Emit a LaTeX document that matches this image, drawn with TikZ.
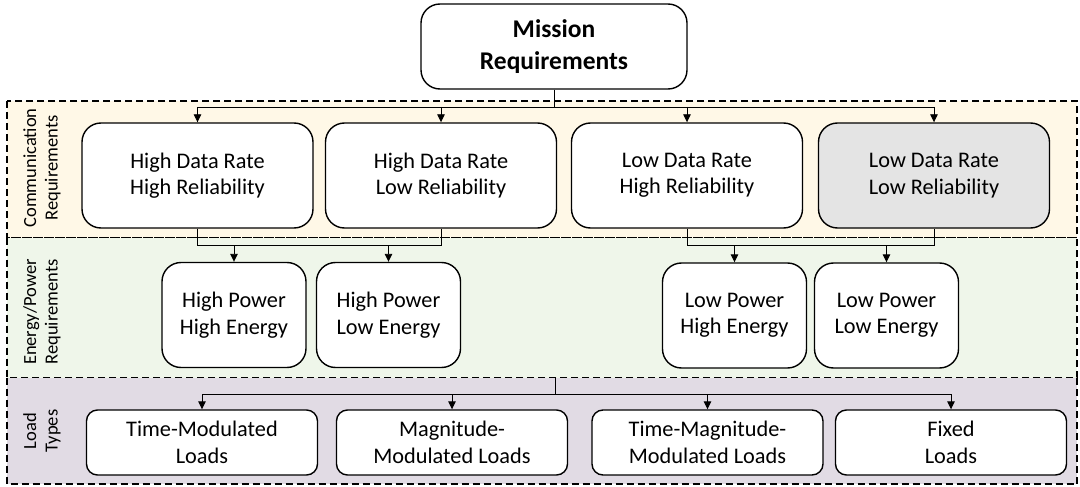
\documentclass[tikz,border=0pt]{standalone}
\usepackage{fontspec}
\setmainfont{Carlito}
\usetikzlibrary{arrows.meta}
\definecolor{commfill}{HTML}{FFF8E7}
\definecolor{energyfill}{HTML}{EFF6EA}
\definecolor{loadfill}{HTML}{E1DBE4}
\definecolor{greybox}{HTML}{E4E4E4}
\tikzset{
  band/.style={draw=black, dash pattern=on 7pt off 4pt, line width=1.2pt},
  box/.style={draw=black, line width=1.4pt, rounded corners=19pt, fill=white,
    align=center, inner sep=0pt, font=\fontsize{22.3}{26.5}\selectfont},
  loadbox/.style={box, rounded corners=11pt, minimum width=231pt, minimum height=65pt},
  commbox/.style={box, minimum width=231pt, minimum height=105pt},
  energybox/.style={box, minimum width=144pt, minimum height=105pt},
  sidelabel/.style={rotate=90, align=center, inner sep=0pt,
    font=\fontsize{18.5}{21.5}\selectfont},
  conn/.style={draw=black, line width=0.9pt},
  arr/.style={conn, -{Triangle[length=8pt,width=7.5pt]}},
}
\begin{document}
\begin{tikzpicture}[x=1pt, y=-1pt]
\useasboundingbox (0,0) rectangle (1080,487);

% dashed bands
\path[fill=commfill]   (7,101) rectangle (1077,237.5);
\path[fill=energyfill] (7,237.5) rectangle (1077,377.5);
\path[fill=loadfill]   (7,377.5) rectangle (1077,484);
\draw[band] (7,101) rectangle (1077,237.5);
\draw[band] (7,237.5) rectangle (1077,377.5);
\draw[band] (7,377.5) rectangle (1077,484);

% band labels
\node[sidelabel] (lbcomm) at (42,168) {Communication\\Requirements};
\node[sidelabel] (lbenergy) at (42,312) {Energy/Power\\Requirements};
\node[sidelabel] (lbload) at (42,431) {Load\\Types};

% top node
\node[box, minimum width=266pt, minimum height=85pt,
  font=\fontsize{25.5}{32}\selectfont\bfseries] (m) at (554,46.5) {Mission\\Requirements};

% communication requirements
\node[commbox] (c1) at (197.5,175.5) {High Data Rate\\High Reliability};
\node[commbox] (c2) at (441,175.5) {High Data Rate\\Low Reliability};
\node[commbox] (c3) at (687,175.5) {Low Data Rate\\High Reliability};
\node[commbox, fill=greybox] (c4) at (934,175.5) {Low Data Rate\\Low Reliability};

% energy/power requirements
\node[energybox] (e1) at (234,315) {High Power\\High Energy};
\node[energybox] (e2) at (388.5,315) {High Power\\Low Energy};
\node[energybox] (e3) at (734.5,315.5) {Low Power\\High Energy};
\node[energybox] (e4) at (886.5,315.5) {Low Power\\Low Energy};

% load types
\node[loadbox] (l1) at (202,442.5) {Time-Modulated\\Loads};
\node[loadbox] (l2) at (452,442.5) {Magnitude-\\Modulated Loads};
\node[loadbox] (l3) at (707.5,442.5) {Time-Magnitude-\\Modulated Loads};
\node[loadbox] (l4) at (951,442.5) {Fixed\\Loads};

% bus levels
\coordinate (bus1) at (0,107);
\coordinate (bus2) at (0,245.5);
\coordinate (bus3) at (0,394);
\coordinate (stub) at (555,377.5);

% mission -> communication
\draw[conn] (m.south) -- (m.south |- bus1);
\draw[conn] (c1.north |- bus1) -- (c4.north |- bus1);
\foreach \n in {c1,c2,c3,c4}
  \draw[arr] (\n.north |- bus1) -- (\n.north);

% communication -> energy/power
\draw[conn] (c1.south) -- (c1.south |- bus2) -- (c2.south |- bus2) -- (c2.south);
\draw[conn] (c3.south) -- (c3.south |- bus2) -- (c4.south |- bus2) -- (c4.south);
\foreach \n in {e1,e2,e3,e4}
  \draw[arr] (\n.north |- bus2) -- (\n.north);

% energy/power -> load types
\draw[conn] (stub) -- (stub |- bus3);
\draw[conn] (l1.north |- bus3) -- (l4.north |- bus3);
\foreach \n in {l1,l2,l3,l4}
  \draw[arr] (\n.north |- bus3) -- (\n.north);
\end{tikzpicture}
\end{document}
